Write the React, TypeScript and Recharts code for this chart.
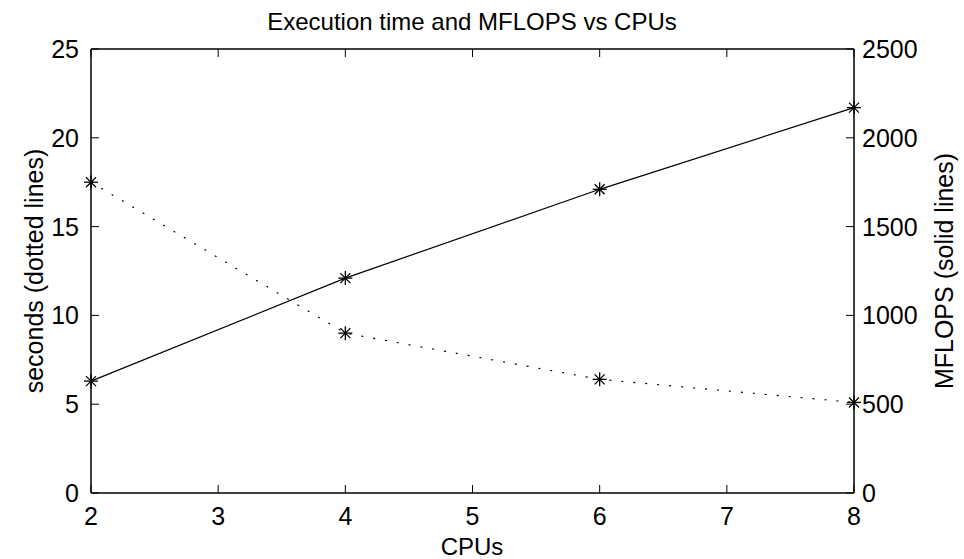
import { ComposedChart, Line, XAxis, YAxis } from 'recharts';

const cpus = [2, 4, 6, 8];
const seconds = [17.5, 9.0, 6.4, 5.1];
const mflops = [630, 1210, 1710, 2170];

const xTicks = [2, 3, 4, 5, 6, 7, 8];
const secondsTicks = [0, 5, 10, 15, 20, 25];
const mflopsTicks = [0, 500, 1000, 1500, 2000, 2500];

const data = cpus.map((c, i) => ({ cpus: c, seconds: seconds[i], mflops: mflops[i] }));

const FONT = '"Liberation Sans", Arial, Helvetica, sans-serif';
const TICK_LEN = 8;
const FS = 25;

const Star = (props: any) => {
  const { cx, cy } = props;
  if (cx == null || cy == null) return null;
  const r = 7;
  const d = 5;
  return (
    <g stroke="#000" strokeWidth={1.3}>
      <line x1={cx - r} y1={cy} x2={cx + r} y2={cy} />
      <line x1={cx} y1={cy - r} x2={cx} y2={cy + r} />
      <line x1={cx - d} y1={cy - d} x2={cx + d} y2={cy + d} />
      <line x1={cx - d} y1={cy + d} x2={cx + d} y2={cy - d} />
    </g>
  );
};

const BottomTick = (props: any) => {
  const { x, y, payload } = props;
  return (
    <g>
      <line x1={x} y1={y} x2={x} y2={y - TICK_LEN} stroke="#000" strokeWidth={1} />
      {/* top border ticks, same x positions */}
      <line x1={x} y1={49} x2={x} y2={49 + TICK_LEN} stroke="#000" strokeWidth={1} />
      <text x={x} y={y + 32} textAnchor="middle" fontSize={FS} fontFamily={FONT} fill="#000">
        {payload.value}
      </text>
    </g>
  );
};

const LeftTick = (props: any) => {
  const { x, y, payload } = props;
  return (
    <g>
      <line x1={x} y1={y} x2={x + TICK_LEN} y2={y} stroke="#000" strokeWidth={1} />
      <text x={x - 12} y={y} dy="0.36em" textAnchor="end" fontSize={FS} fontFamily={FONT} fill="#000">
        {payload.value}
      </text>
    </g>
  );
};

const RightTick = (props: any) => {
  const { x, y, payload } = props;
  return (
    <g>
      <line x1={x} y1={y} x2={x - TICK_LEN} y2={y} stroke="#000" strokeWidth={1} />
      <text x={x + 8} y={y} dy="0.36em" textAnchor="start" fontSize={FS} fontFamily={FONT} fill="#000">
        {payload.value}
      </text>
    </g>
  );
};

export default function App() {
  return (
    <div style={{ position: 'absolute', left: 0, top: 0, width: 964, height: 559, background: '#fff' }}>
      <ComposedChart
        width={964}
        height={559}
        data={data}
        margin={{ top: 49, right: 0, bottom: 0, left: 0 }}
      >
        <XAxis
          dataKey="cpus"
          type="number"
          domain={[2, 8]}
          ticks={xTicks}
          interval={0}
          height={66}
          tickSize={0}
          tickMargin={0}
          tickLine={false}
          axisLine={{ stroke: '#000', strokeWidth: 1.5 }}
          tick={<BottomTick />}
          label={{
            content: () => (
              <g>
                <text x={472} y={555} textAnchor="middle" fontSize={24} fontFamily={FONT} fill="#000">
                  CPUs
                </text>
                <text x={472} y={30} textAnchor="middle" fontSize={24} fontFamily={FONT} fill="#000">
                  Execution time and MFLOPS vs CPUs
                </text>
              </g>
            ),
          }}
        />
        <YAxis
          yAxisId="left"
          orientation="left"
          domain={[0, 25]}
          ticks={secondsTicks}
          interval={0}
          width={91}
          tickSize={0}
          tickMargin={0}
          tickLine={false}
          axisLine={{ stroke: '#000', strokeWidth: 1.5 }}
          tick={<LeftTick />}
          label={{
            content: () => (
              <g>
                <text
                  x={34}
                  y={271}
                  dy="0.36em"
                  transform="rotate(-90 34 271)"
                  textAnchor="middle"
                  fontSize={FS}
                  fontFamily={FONT}
                  fill="#000"
                >
                  seconds (dotted lines)
                </text>
                {/* top border of the box */}
                <line x1={91} y1={49} x2={854} y2={49} stroke="#000" strokeWidth={1.5} />
              </g>
            ),
          }}
        />
        <YAxis
          yAxisId="right"
          orientation="right"
          domain={[0, 2500]}
          ticks={mflopsTicks}
          interval={0}
          width={110}
          tickSize={0}
          tickMargin={0}
          tickLine={false}
          axisLine={{ stroke: '#000', strokeWidth: 1.5 }}
          tick={<RightTick />}
          label={{
            content: () => (
              <text
                x={944}
                y={271}
                dy="0.36em"
                transform="rotate(-90 944 271)"
                textAnchor="middle"
                fontSize={FS}
                fontFamily={FONT}
                fill="#000"
              >
                MFLOPS (solid lines)
              </text>
            ),
          }}
        />
        <Line
          yAxisId="left"
          type="linear"
          dataKey="seconds"
          stroke="#000"
          strokeWidth={1.2}
          strokeDasharray="2 10"
          dot={(p: any) => <Star key={`s-${p.index}`} {...p} />}
          activeDot={false}
          isAnimationActive={false}
        />
        <Line
          yAxisId="right"
          type="linear"
          dataKey="mflops"
          stroke="#000"
          strokeWidth={1.2}
          dot={(p: any) => <Star key={`m-${p.index}`} {...p} />}
          activeDot={false}
          isAnimationActive={false}
        />
      </ComposedChart>
    </div>
  );
}
